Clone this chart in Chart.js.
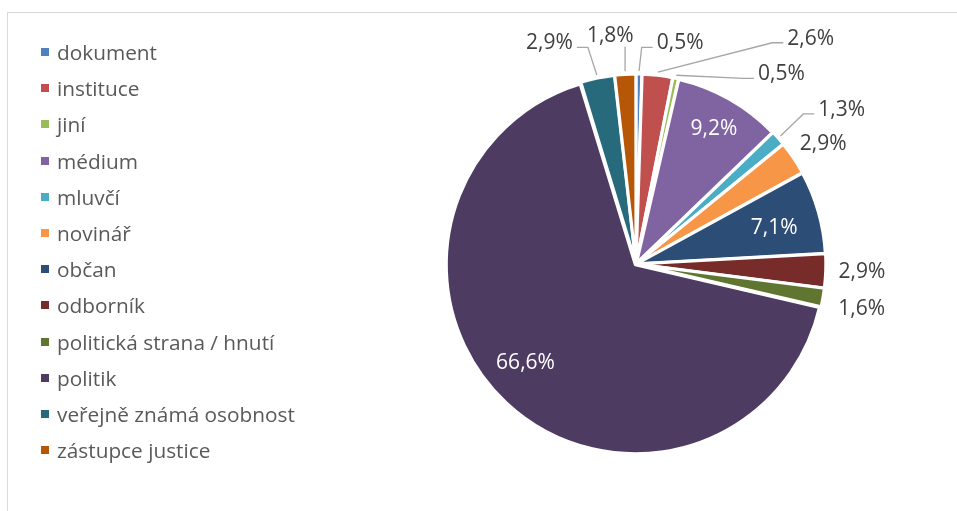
<!DOCTYPE html>
<html lang="cs">
<head>
<meta charset="utf-8">
<title>Zdroje</title>
<script src="https://cdn.jsdelivr.net/npm/chart.js@4.4.1/dist/chart.umd.min.js"></script>
<style>
  html, body { margin: 0; padding: 0; width: 957px; height: 511px; overflow: hidden; background: #fff; }
  /* rámeček grafu (vpravo a dole je v originále oříznutý) */
  #ramecek { position: absolute; left: 7px; top: 12px; width: 1000px; height: 600px;
             border: 1px solid #d9d9d9; box-sizing: border-box; }
  #graf { position: absolute; left: 0; top: 0; }
  #legenda { position: absolute; left: 41px; top: 34px; margin: 0; padding: 0; list-style: none;
             font-family: 'Open Sans', sans-serif; font-size: 20.8px; color: #595959; }
  #legenda li { height: 36.2px; display: flex; align-items: center; white-space: nowrap; }
  #legenda .box { width: 8px; height: 8px; margin-right: 8px; flex: none; }
</style>
</head>
<body>
<div id="ramecek"></div>
<canvas id="graf" width="957" height="511"></canvas>
<ul id="legenda"></ul>

<script>
/* Data – podíl typů zdrojů (%) */
const kategorie = ['dokument', 'instituce', 'jiní', 'médium', 'mluvčí', 'novinář', 'občan',
                   'odborník', 'politická strana / hnutí', 'politik', 'veřejně známá osobnost',
                   'zástupce justice'];
const podily = [0.5, 2.6, 0.5, 9.2, 1.3, 2.9, 7.1, 2.9, 1.6, 66.6, 2.9, 1.8];

/* Barvy (paleta Office) */
const barvy = ['#4f81bd', '#c0504d', '#9bbb59', '#8064a2', '#4bacc6', '#f79646', '#2c4d75',
               '#772c2a', '#5f7530', '#4d3b62', '#276a7c', '#b65708'];

/* Umístění popisků vůči výseči:
   uvnitr -> r = podíl poloměru, jinak d = px za okrajem; da = posun úhlu ve stupních */
const umisteni = [
  { d: 33, da: 10.4, vodic: true },
  { d: 93, da: 31.3, vodic: true },
  { d: 47, da: 25.4, vodic: true },
  { uvnitr: true, r: 0.83, da: 0.4 },
  { d: 65, da: 4.7, vodic: true },
  { d: 30, da: 1.4 },
  { uvnitr: true, r: 0.76, da: 1.3 },
  { d: 34, da: 0 },
  { d: 38, da: 1 },
  { uvnitr: true, r: 0.79, da: 5 },
  { d: 45, da: -9.7, vodic: true },
  { d: 37, da: -3.2, vodic: true },
];

const VYSUNUTI = 4;
const fmt = v => v.toFixed(1).replace('.', ',') + '%';

// legenda jako HTML seznam
const legenda = document.getElementById('legenda');
kategorie.forEach((k, i) => {
  const li = document.createElement('li');
  const box = document.createElement('span');
  box.className = 'box';
  box.style.background = barvy[i];
  li.appendChild(box);
  li.appendChild(document.createTextNode(k));
  legenda.appendChild(li);
});

/* Plugin: procentní popisky s vodicími čarami */
const popiskyPlugin = {
  id: 'popisky',
  afterDatasetsDraw(chart) {
    const ctx = chart.ctx;
    const meta = chart.getDatasetMeta(0);
    ctx.save();
    ctx.font = '21px "Open Sans", sans-serif';
    ctx.textAlign = 'center';
    ctx.textBaseline = 'middle';

    meta.data.forEach((arc, i) => {
      const p = umisteni[i];
      const { x, y, startAngle, endAngle, outerRadius } =
        arc.getProps(['x', 'y', 'startAngle', 'endAngle', 'outerRadius'], true);
      const mid = (startAngle + endAngle) / 2;
      const a = mid + p.da * Math.PI / 180;
      const text = fmt(podily[i]);

      if (p.uvnitr) {
        const r = outerRadius * p.r;
        ctx.fillStyle = '#ffffff';
        ctx.fillText(text, x + Math.cos(a) * r, y + Math.sin(a) * r);
        return;
      }

      const r = outerRadius + VYSUNUTI + p.d;
      const cx = x + Math.cos(a) * r;
      const cy = y + Math.sin(a) * r;
      ctx.fillStyle = '#404040';
      ctx.fillText(text, cx, cy);

      if (p.vodic) {
        const w = ctx.measureText(text).width;
        const re = outerRadius + VYSUNUTI + 1;
        const sx = x + Math.cos(mid) * re;
        const sy = y + Math.sin(mid) * re;
        const left = cx - w / 2, right = cx + w / 2;
        ctx.strokeStyle = '#a6a6a6';
        ctx.lineWidth = 1.3;
        ctx.beginPath();
        ctx.moveTo(sx, sy);
        if (sx < left) {
          ctx.lineTo(left - 15, cy + 4);
          ctx.lineTo(left - 4, cy + 4);
        } else if (sx > right) {
          ctx.lineTo(right + 15, cy + 4);
          ctx.lineTo(right + 4, cy + 4);
        } else {
          ctx.lineTo(sx, cy + 10);
        }
        ctx.stroke();
      }
    });
    ctx.restore();
  }
};

new Chart(document.getElementById('graf'), {
  type: 'pie',
  data: {
    labels: kategorie,
    datasets: [{
      data: podily,
      backgroundColor: barvy,
      borderColor: '#ffffff',
      borderWidth: 3,
      offset: VYSUNUTI,
    }],
  },
  options: {
    responsive: false,
    animation: false,
    radius: 188,
    layout: { padding: { left: 436, right: 121, top: 64, bottom: 47 } },
    plugins: {
      legend: { display: false },
      tooltip: { enabled: false },
    },
  },
  plugins: [popiskyPlugin],
});
</script>
</body>
</html>
